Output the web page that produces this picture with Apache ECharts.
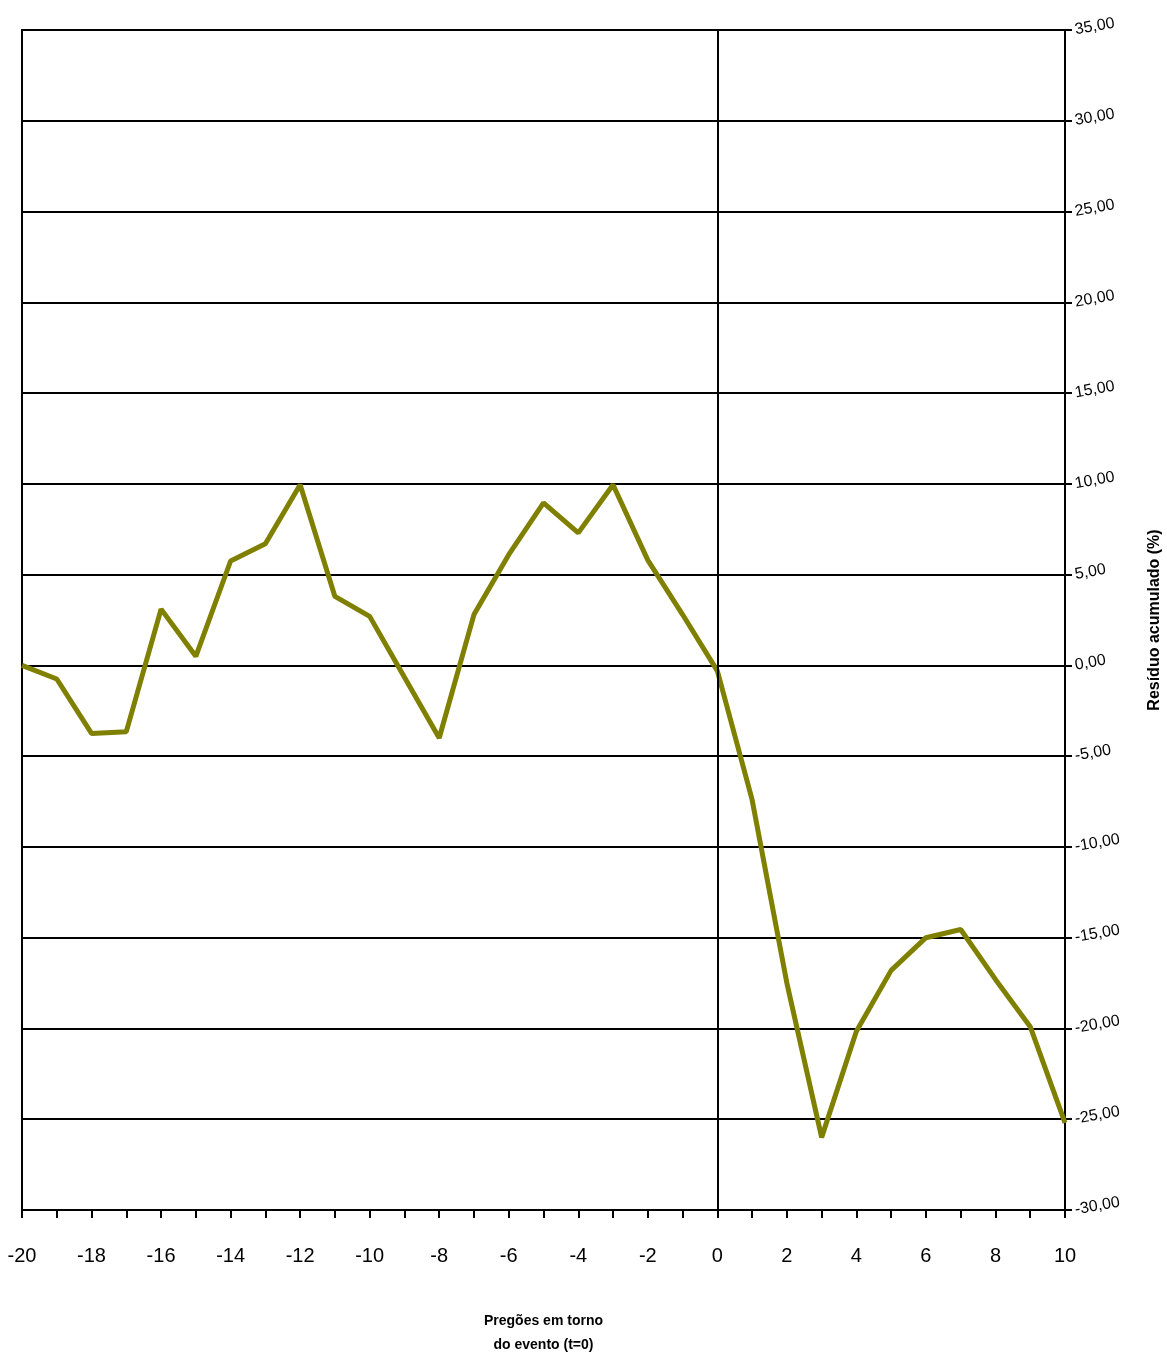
<!DOCTYPE html>
<html>
<head>
<meta charset="utf-8">
<script src="https://cdn.jsdelivr.net/npm/echarts@6/dist/echarts.min.js"></script>
<style>
html,body{margin:0;padding:0;background:#fff;}
#chart{width:1167px;height:1357px;}
</style>
</head>
<body>
<div id="chart"></div>
<script>
var days = [-20,-19,-18,-17,-16,-15,-14,-13,-12,-11,-10,-9,-8,-7,-6,-5,-4,-3,-2,-1,0,1,2,3,4,5,6,7,8,9,10];
var residuo = [0.0,-0.75,-3.75,-3.65,3.1,0.5,5.75,6.7,9.95,3.8,2.7,-0.65,-4.0,2.8,6.1,8.95,7.3,9.95,5.8,2.8,-0.3,-7.4,-17.5,-26.0,-20.15,-16.8,-15.0,-14.55,-17.3,-19.9,-25.2];
var xAxisName = 'Pregões em torno\ndo evento (t=0)';
var yAxisName = 'Resíduo acumulado (%)';

var chart = echarts.init(document.getElementById('chart'));
var data = days.map(function(d,i){return [d, residuo[i]];});
chart.setOption({
  animation:false,
  backgroundColor:'#ffffff',
  grid:{left:22,right:102,top:30,bottom:147,outerBoundsMode:'none',containLabel:false,show:true,borderColor:'#000',borderWidth:2,backgroundColor:'transparent'},
  xAxis:{
    type:'value',min:-20,max:10,interval:1,
    axisLine:{show:true,onZero:false,lineStyle:{color:'#000',width:2}},
    axisTick:{show:true,length:8,lineStyle:{color:'#000',width:2}},
    splitLine:{show:false},
    axisLabel:{
      margin:36,color:'#000',fontSize:20,fontFamily:'Liberation Sans, Arial, sans-serif',
      formatter:function(v){return (v%2===0)?String(v):'';}
    },
    name:xAxisName,nameLocation:'middle',nameGap:99,
    nameTextStyle:{color:'#000',fontSize:14,fontWeight:'bold',lineHeight:24,fontFamily:'Liberation Sans, Arial, sans-serif',verticalAlign:'top'}
  },
  yAxis:{
    type:'value',position:'right',min:-30,max:35,interval:5,
    axisLine:{show:true,onZero:false,lineStyle:{color:'#000',width:2}},
    axisTick:{show:true,inside:false,length:7,lineStyle:{color:'#000',width:2}},
    splitLine:{show:true,lineStyle:{color:'#000',width:2}},
    axisLabel:{
      margin:10,color:'#000',fontSize:16,rotate:10,fontFamily:'Liberation Sans, Arial, sans-serif',
      formatter:function(v){return v.toFixed(2).replace('.',',');}
    },
    name:yAxisName,nameLocation:'middle',nameRotate:90,nameGap:82,
    nameTextStyle:{color:'#000',fontSize:16,fontWeight:'bold',fontFamily:'Liberation Sans, Arial, sans-serif'}
  },
  series:[{
    type:'line',data:data,symbol:'none',
    lineStyle:{color:'#808000',width:5},
    markLine:{
      silent:true,symbol:'none',label:{show:false},
      lineStyle:{color:'#000',width:2,type:'solid'},
      data:[{xAxis:0}]
    },
    z:3
  }]
});
</script>
</body>
</html>
